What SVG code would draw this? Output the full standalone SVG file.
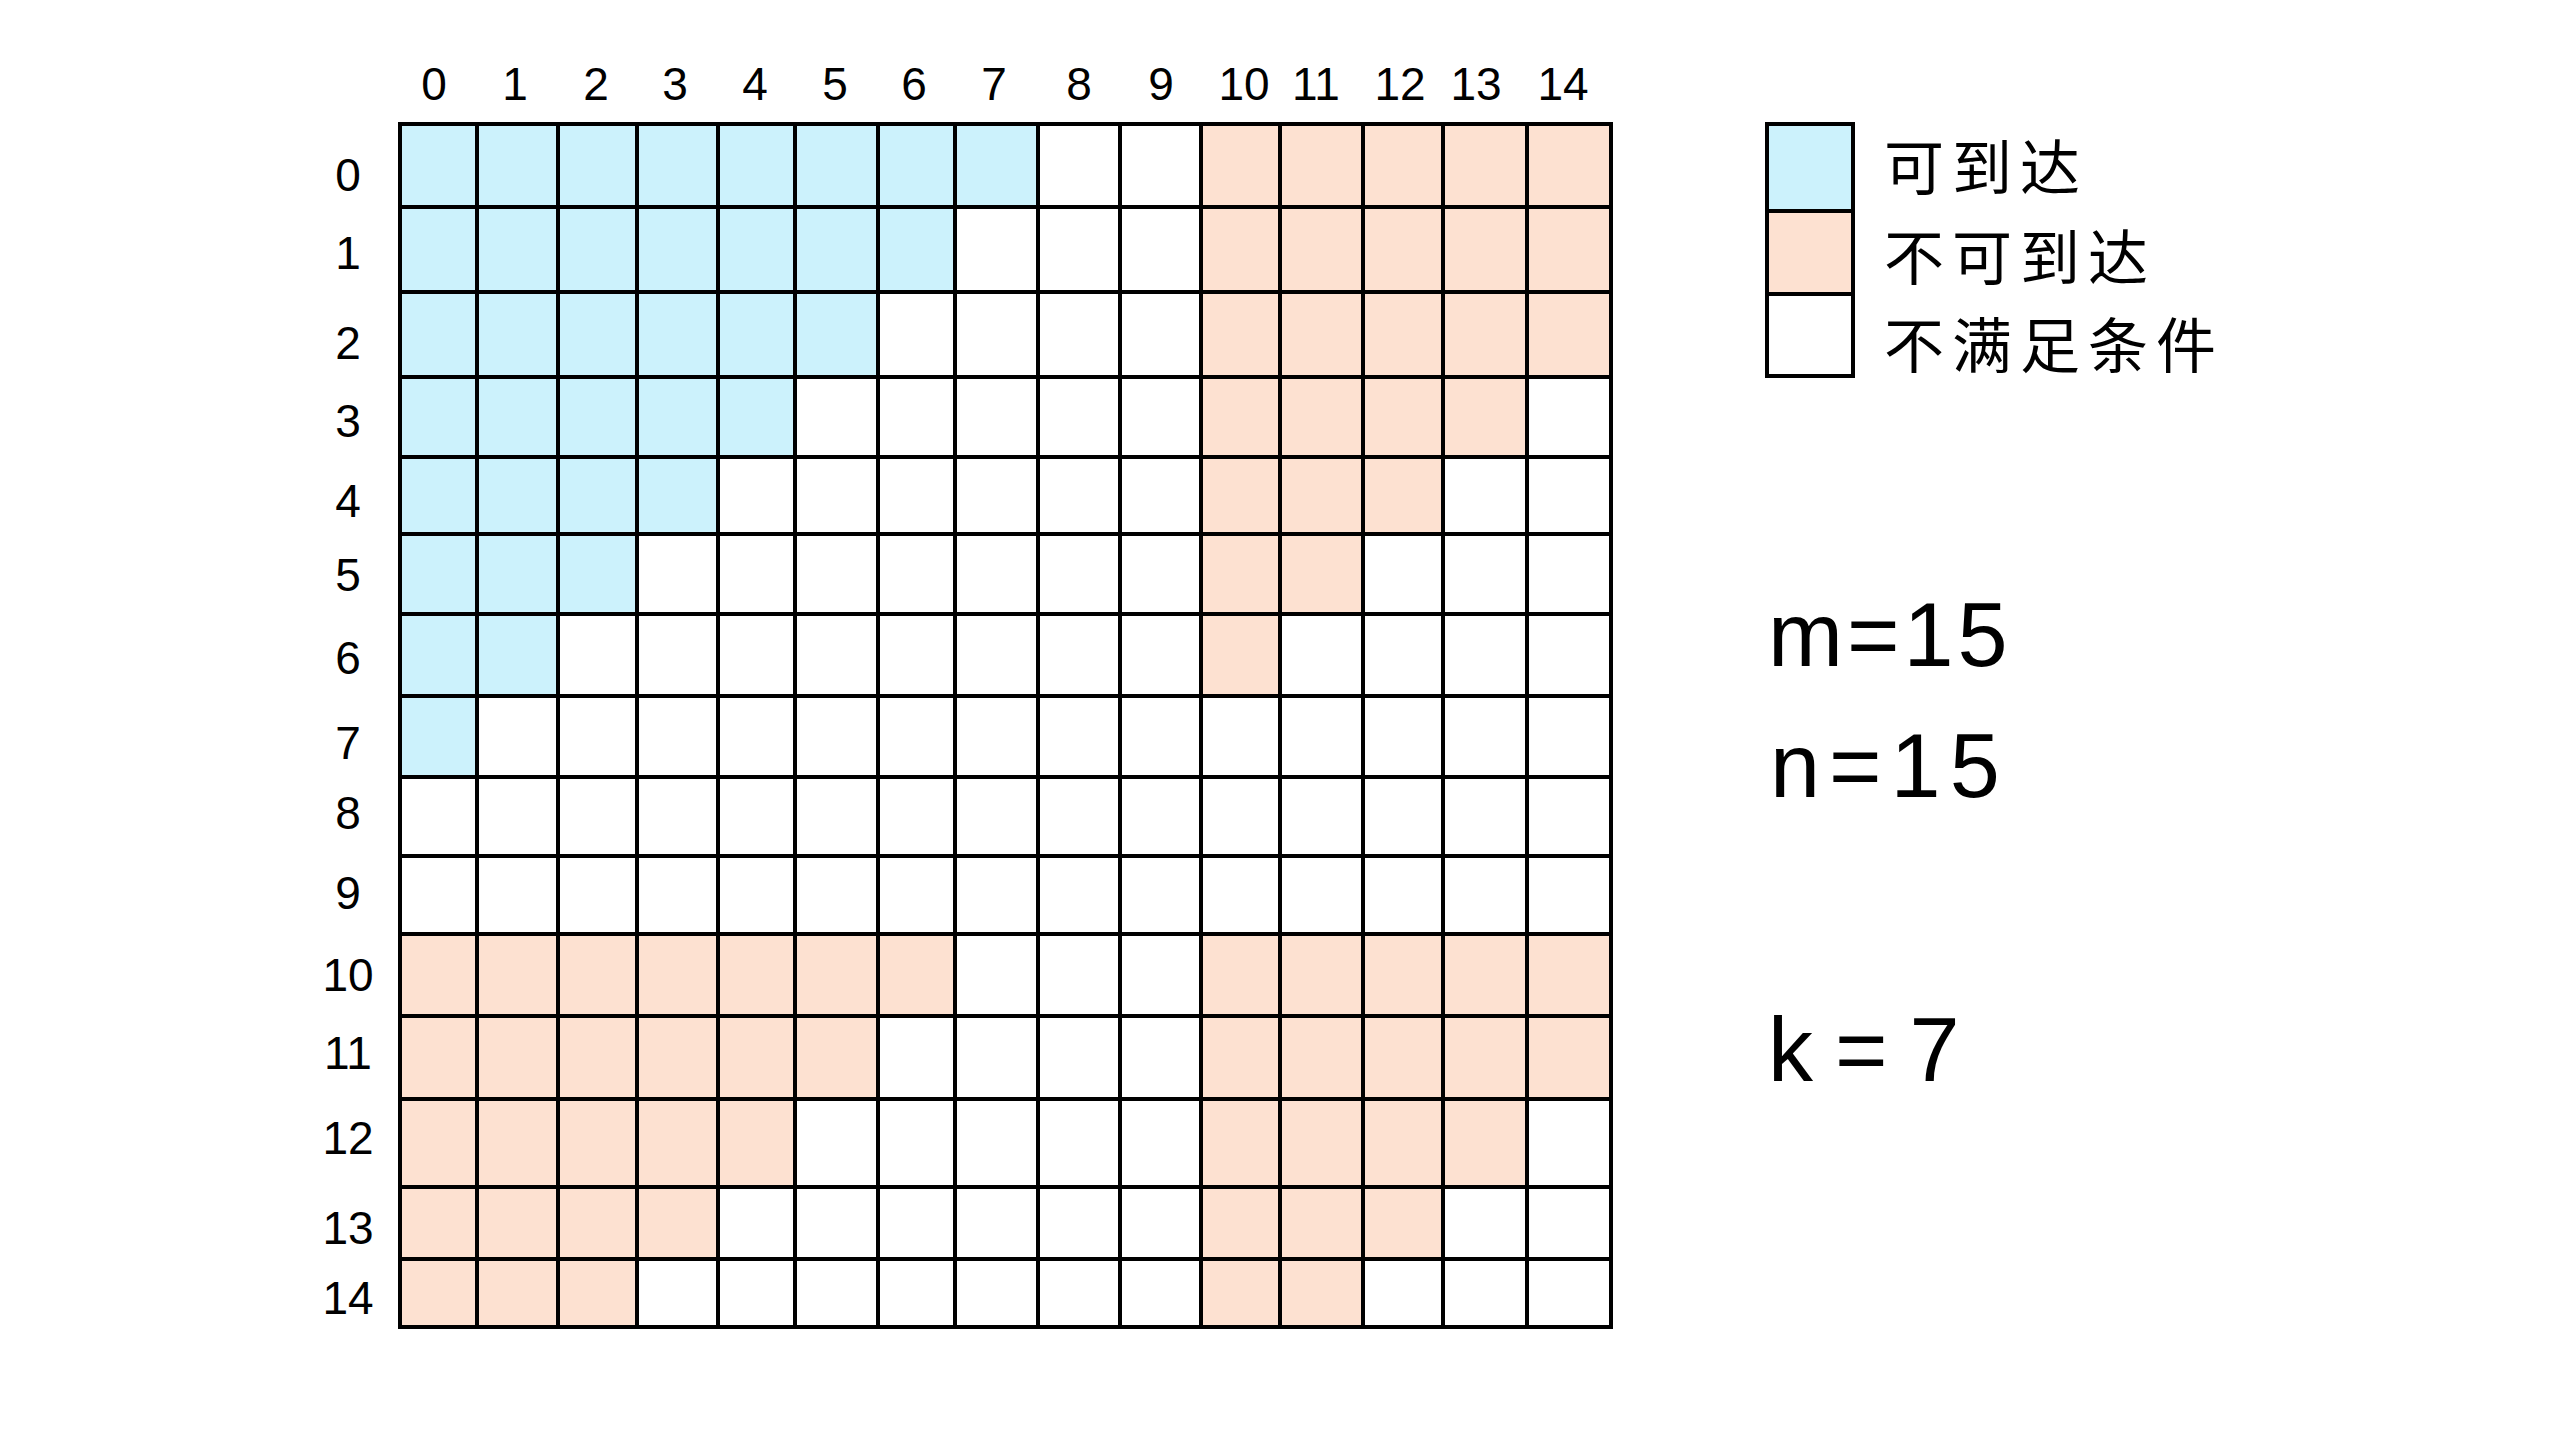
<svg xmlns="http://www.w3.org/2000/svg" width="2560" height="1440" viewBox="0 0 2560 1440">
<style>
.blue{fill:#CCF2FC}
.peach{fill:#FDE1D1}
.grid{fill:none;stroke:#000;stroke-width:4;stroke-linecap:square}
.num{font-family:"Liberation Sans","DejaVu Sans",sans-serif;font-size:46px;fill:#000;text-anchor:middle}
.leg{font-family:"Noto Sans CJK SC","Noto Sans CJK JP",sans-serif;font-size:60px;letter-spacing:8px;fill:#000}
.var{font-family:"Liberation Sans","DejaVu Sans",sans-serif;font-size:90px;fill:#000}
</style>
<rect width="2560" height="1440" fill="#fff"/>
<g id="reachable">
<rect class="blue" x="400" y="124" width="638" height="83"/>
<rect class="blue" x="400" y="207" width="555" height="85"/>
<rect class="blue" x="400" y="292" width="478" height="85"/>
<rect class="blue" x="400" y="377" width="395" height="80"/>
<rect class="blue" x="400" y="457" width="318" height="77"/>
<rect class="blue" x="400" y="534" width="237" height="80"/>
<rect class="blue" x="400" y="614" width="158" height="82"/>
<rect class="blue" x="400" y="696" width="77" height="81"/>
</g>
<g id="unreachable">
<rect class="peach" x="1201" y="124" width="410" height="253"/>
<rect class="peach" x="1201" y="377" width="326" height="80"/>
<rect class="peach" x="1201" y="457" width="242" height="77"/>
<rect class="peach" x="1201" y="534" width="162" height="80"/>
<rect class="peach" x="1201" y="614" width="79" height="82"/>
<rect class="peach" x="400" y="934" width="555" height="82"/>
<rect class="peach" x="400" y="1016" width="478" height="83"/>
<rect class="peach" x="400" y="1099" width="395" height="88"/>
<rect class="peach" x="400" y="1187" width="318" height="72"/>
<rect class="peach" x="400" y="1259" width="237" height="68"/>
<rect class="peach" x="1201" y="934" width="410" height="165"/>
<rect class="peach" x="1201" y="1099" width="326" height="88"/>
<rect class="peach" x="1201" y="1187" width="242" height="72"/>
<rect class="peach" x="1201" y="1259" width="162" height="68"/>
</g>
<g id="grid-lines">
<path class="grid" d="M400 124H1611M400 207H1611M400 292H1611M400 377H1611M400 457H1611M400 534H1611M400 614H1611M400 696H1611M400 777H1611M400 856H1611M400 934H1611M400 1016H1611M400 1099H1611M400 1187H1611M400 1259H1611M400 1327H1611"/>
<path class="grid" d="M400 124V1327M477 124V1327M558 124V1327M637 124V1327M718 124V1327M795 124V1327M878 124V1327M955 124V1327M1038 124V1327M1120 124V1327M1201 124V1327M1280 124V1327M1363 124V1327M1443 124V1327M1527 124V1327M1611 124V1327"/>
</g>
<g id="col-labels" class="num">
<text x="434" y="100">0</text>
<text x="515" y="100">1</text>
<text x="596" y="100">2</text>
<text x="675" y="100">3</text>
<text x="755" y="100">4</text>
<text x="835" y="100">5</text>
<text x="914" y="100">6</text>
<text x="994" y="100">7</text>
<text x="1079" y="100">8</text>
<text x="1161" y="100">9</text>
<text x="1244" y="100">10</text>
<text x="1316" y="100">11</text>
<text x="1400" y="100">12</text>
<text x="1476" y="100">13</text>
<text x="1563" y="100">14</text>
</g>
<g id="row-labels" class="num">
<text x="348" y="191">0</text>
<text x="348" y="269">1</text>
<text x="348" y="359">2</text>
<text x="348" y="437">3</text>
<text x="348" y="517">4</text>
<text x="348" y="591">5</text>
<text x="348" y="674">6</text>
<text x="348" y="759">7</text>
<text x="348" y="829">8</text>
<text x="348" y="909">9</text>
<text x="348" y="991">10</text>
<text x="348" y="1069">11</text>
<text x="348" y="1154">12</text>
<text x="348" y="1244">13</text>
<text x="348" y="1314">14</text>
</g>
<g id="legend">
<rect class="blue" x="1767" y="124" width="86" height="87"/>
<rect class="peach" x="1767" y="211" width="86" height="83"/>
<rect x="1767" y="294" width="86" height="82" fill="#fff"/>
<path class="grid" d="M1767 124H1853V376H1767ZM1767 211H1853M1767 294H1853"/>
<text class="leg" x="1884" y="190">可到达</text>
<text class="leg" x="1884" y="280">不可到达</text>
<text class="leg" x="1884" y="368">不满足条件</text>
</g>
<g id="params">
<text class="var" x="1768" y="666" letter-spacing="4">m=15</text>
<text class="var" x="1770" y="797" letter-spacing="9">n=15</text>
<text class="var" x="1768" y="1081" font-size="110" letter-spacing="22">k=7</text>
</g>
</svg>
